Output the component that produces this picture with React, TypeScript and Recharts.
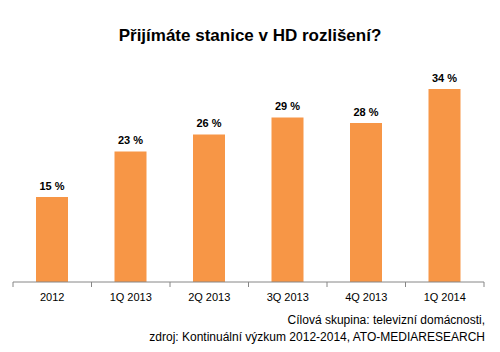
import React from "react";
import { BarChart, Bar, XAxis, YAxis, LabelList } from "recharts";

const categories = ["2012", "1Q 2013", "2Q 2013", "3Q 2013", "4Q 2013", "1Q 2014"];
const values = [15, 23, 26, 29, 28, 34];
const title = "Přijímáte stanice v HD rozlišení?";
const footer1 = "Cílová skupina: televizní domácnosti,";
const footer2 = "zdroj: Kontinuální výzkum 2012-2014, ATO-MEDIARESEARCH";

const data = categories.map((c, i) => ({ name: c, value: values[i] }));

const FONT = "'Liberation Sans', Arial, sans-serif";
const AXIS = "#868686";

const BarLabel = (props: any) => {
  const { x, y, width, value } = props;
  return (
    <text
      x={Number(x) + Number(width) / 2}
      y={Number(y) - 7}
      textAnchor="middle"
      fill="#000"
      fontSize={11}
      fontWeight="bold"
      fontFamily={FONT}
    >
      {`${value} %`}
    </text>
  );
};

const CatTick = (props: any) => {
  const { x, y, payload, index, visibleTicksCount } = props;
  const half = payload && typeof payload.offset === "number" ? payload.offset : 0;
  const axisY = Number(y) - 11;
  const isLast = index === (visibleTicksCount ?? categories.length) - 1;
  return (
    <g>
      <line x1={x - half} x2={x - half} y1={axisY} y2={axisY + 5} stroke={AXIS} />
      {isLast && <line x1={x + half} x2={x + half} y1={axisY} y2={axisY + 5} stroke={AXIS} />}
      <text x={x} y={y} dy="0.71em" textAnchor="middle" fill="#000" fontSize={11} fontFamily={FONT}>
        {payload.value}
      </text>
    </g>
  );
};

export default function App() {
  return (
    <div style={{ position: "absolute", left: 0, top: 0, width: 500, height: 352, background: "#fff", fontFamily: FONT }}>
      <div style={{ position: "absolute", left: 0, top: 26, width: 500, textAlign: "center", fontSize: 17, fontWeight: "bold", color: "#000" }}>
        {title}
      </div>
      <BarChart width={500} height={352} data={data} margin={{ top: 55, right: 16, bottom: 40, left: 13 }}>
        <YAxis hide domain={[0, 40]} />
        <XAxis
          dataKey="name"
          height={30}
          axisLine={{ stroke: AXIS }}
          tickLine={false}
          tickMargin={5}
          tick={<CatTick />}
        />
        <Bar dataKey="value" fill="#F79646" barSize={32} isAnimationActive={false}>
          <LabelList dataKey="value" content={BarLabel} />
        </Bar>
      </BarChart>
      <div style={{ position: "absolute", right: 15, top: 312, textAlign: "right", fontSize: 12, color: "#000", lineHeight: "17px" }}>
        <div>{footer1}</div>
        <div>{footer2}</div>
      </div>
    </div>
  );
}
